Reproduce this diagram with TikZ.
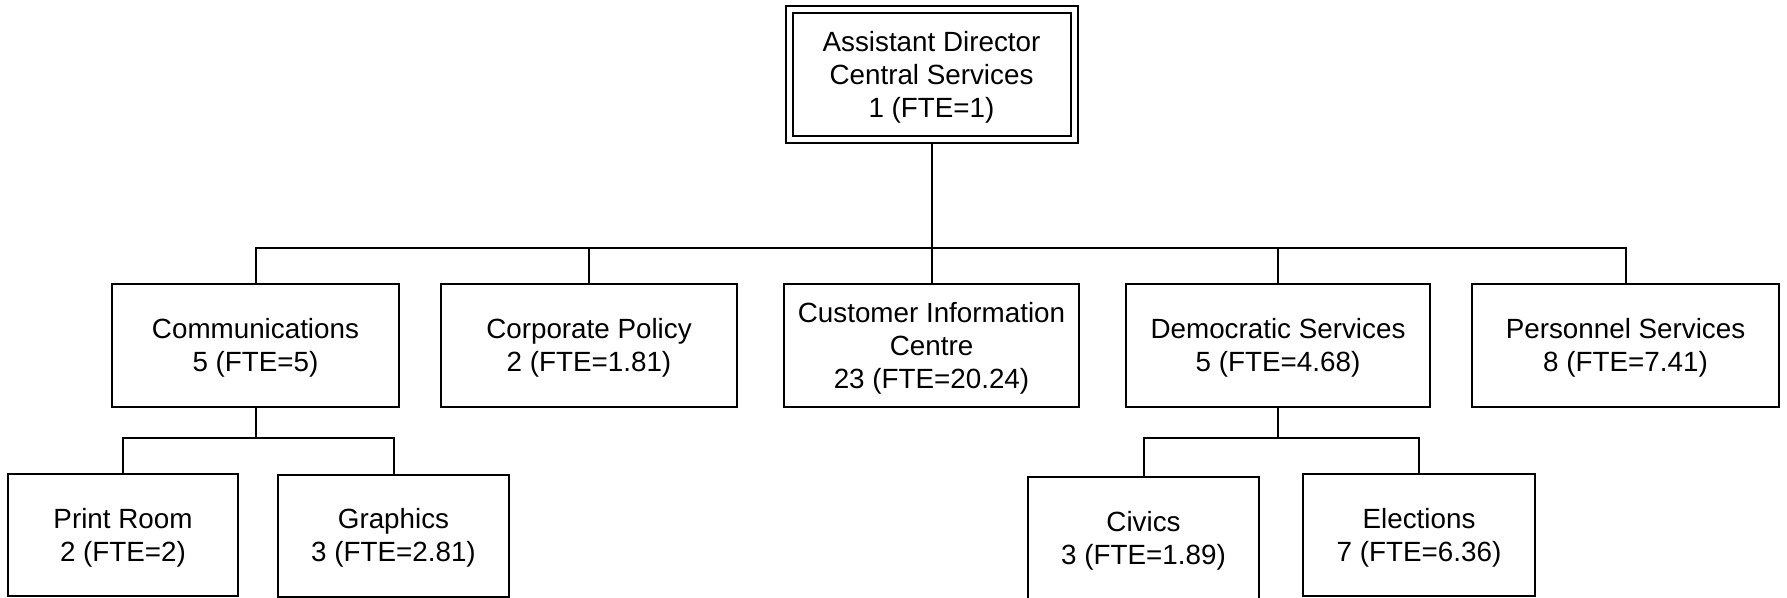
\documentclass[tikz,border=0pt]{standalone}
\usepackage{fontspec}
\setmainfont{Liberation Sans}
\newcommand\myTopStrut{\rule{0pt}{24.8pt}}
\begin{document}
\begin{tikzpicture}[x=1pt,y=-1pt,
  box/.style={draw=black, line width=2pt, align=center, inner sep=0pt,
    minimum height=123pt, font=\fontsize{27.8}{33}\selectfont, text=black},
  conn/.style={draw=black, line width=2pt}]
\useasboundingbox (0,0) rectangle (1787,597);
% top
\node[box, double, double distance=5pt, minimum width=285pt, minimum height=130pt, outer sep=4.5pt] (top) at (931.5,74.5)
  {\myTopStrut Assistant Director\\Central Services\\1 (FTE=1)};
% row 1
\node[box, minimum width=287pt] (comm) at (255.5,345.5) {\myTopStrut Communications\\5 (FTE=5)};
\node[box, minimum width=296pt] (corp) at (589,345.5) {\myTopStrut Corporate Policy\\2 (FTE=1.81)};
\node[box, minimum width=295pt] (cust) at (931.5,345.5) {\myTopStrut Customer Information\\Centre\\23 (FTE=20.24)};
\node[box, minimum width=304pt] (dem) at (1278,345.5) {\myTopStrut Democratic Services\\5 (FTE=4.68)};
\node[box, minimum width=307pt] (pers) at (1625.5,345.5) {\myTopStrut Personnel Services\\8 (FTE=7.41)};
% row 2
\node[box, minimum width=230pt, minimum height=122pt] (print) at (123,535) {\myTopStrut Print Room\\2 (FTE=2)};
\node[box, minimum width=231pt, minimum height=122pt] (graph) at (393.5,535.5) {\myTopStrut Graphics\\3 (FTE=2.81)};
\node[box, minimum width=231pt, minimum height=122pt] (civ) at (1143.5,538) {\myTopStrut Civics\\3 (FTE=1.89)};
\node[box, minimum width=232pt, minimum height=122pt] (elec) at (1419,535) {\myTopStrut Elections\\7 (FTE=6.36)};
% connectors
\coordinate (bus) at (0,248);
\coordinate (subbus) at (0,438);
\draw[conn] (top.south) -- (top.south |- bus);
\foreach \n in {comm,corp,cust,dem,pers}
  \draw[conn] (top.south |- bus) -| (\n.north);
\draw[conn] (comm.south) -- (comm.south |- subbus);
\foreach \n in {print,graph}
  \draw[conn] (comm.south |- subbus) -| (\n.north);
\draw[conn] (dem.south) -- (dem.south |- subbus);
\foreach \n in {civ,elec}
  \draw[conn] (dem.south |- subbus) -| (\n.north);
\end{tikzpicture}
\end{document}
